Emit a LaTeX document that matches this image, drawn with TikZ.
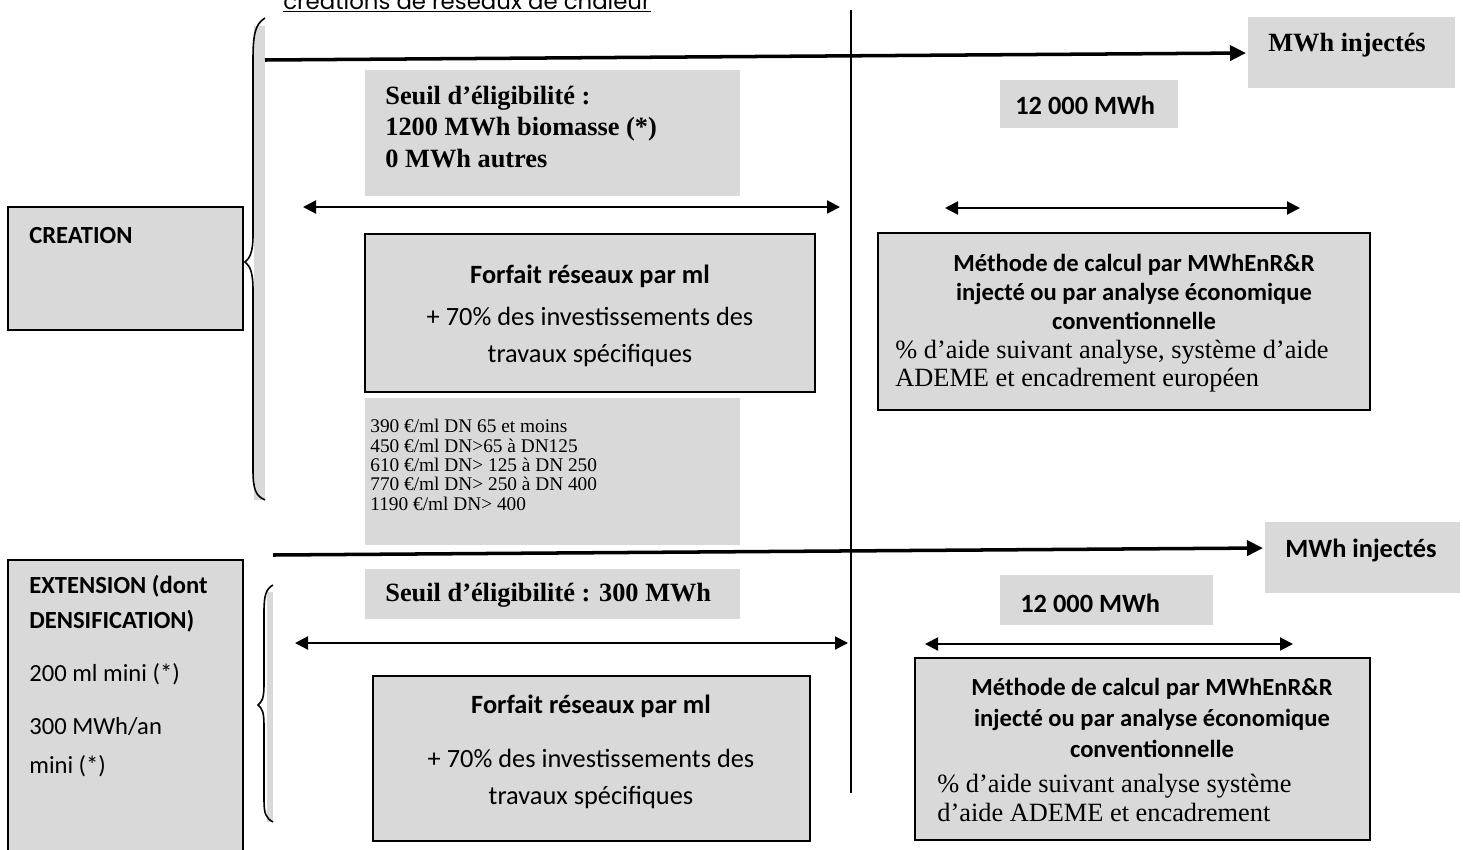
\documentclass[tikz,border=0pt]{standalone}
\usepackage{fontspec}
\setmainfont{Liberation Serif}
\newfontfamily\calibri{Carlito}
\newfontfamily\gothic{Poppins}
\usetikzlibrary{arrows.meta}
\definecolor{boxgrey}{HTML}{D9D9D9}

\tikzset{
    greybox/.style={fill=boxgrey},
    framebox/.style={fill=boxgrey, draw=black, line width=1.1pt},
    bigarrow/.style={line width=2pt, -{Triangle[length=0.32cm,width=0.30cm]}},
    spanarrow/.style={line width=1.2pt, {Triangle[length=0.26cm,width=0.26cm]}-{Triangle[length=0.26cm,width=0.26cm]}},
    timesbold/.style={inner sep=0pt, font=\fontsize{15}{18}\selectfont\bfseries},
    calbold/.style={inner sep=0pt, font=\calibri\fontsize{15}{18}\selectfont\bfseries},
}

\begin{document}
\begin{tikzpicture}[x=0.02cm, y=-0.02cm]
    \useasboundingbox (0,0) rectangle (1463,849);

    % title, cut by the page edge
    \node[anchor=base west, inner sep=0pt] (title) at (283,9)
        {\gothic\fontsize{13}{15}\selectfont\underline{créations de réseaux de chaleur}};

    % grey boxes
    \fill[greybox] (1248,17) rectangle (1455,88);
    \fill[greybox] (365,70) rectangle (740,196);
    \fill[greybox] (1000,80) rectangle (1178,128);
    \fill[greybox] (365,398) rectangle (740,545);
    \fill[greybox] (1265,522) rectangle (1460,593);
    \fill[greybox] (365,569) rectangle (740,619);
    \fill[greybox] (1000,575) rectangle (1213,625);
    \draw[framebox] (8,207) rectangle (243,330);
    \draw[framebox] (365,234) rectangle (815,392);
    \draw[framebox] (878,233) rectangle (1370,410);
    \draw[framebox] (8,560) rectangle (243,870);
    \draw[framebox] (373,676) rectangle (810,841);
    \draw[framebox] (915,658) rectangle (1370,840);

    % braces
    \fill[greybox] (254,26) rectangle (265,500);
    \draw[line width=0.9pt] (265,18) .. controls (255,24) and (253,35) .. (253,60)
        -- (253,235) .. controls (253,252) and (250,258) .. (245,262)
        .. controls (250,266) and (253,272) .. (253,290)
        -- (253,470) .. controls (253,490) and (256,496) .. (265,500);
    \fill[greybox] (267,592) rectangle (273,822);
    \draw[line width=0.9pt] (273,585) .. controls (266,589) and (264,595) .. (264,612)
        -- (264,685) .. controls (264,698) and (262,702) .. (258,705)
        .. controls (262,708) and (264,712) .. (264,725)
        -- (264,800) .. controls (264,814) and (266,818) .. (273,822);

    % axis and arrows
    \coordinate (axtop) at (851,10);
    \coordinate (axbot) at (851,793);
    \draw[line width=0.9pt] (axtop) -- (axbot);

    \coordinate (rowAstart) at (265,60);
    \coordinate (rowAend) at (1246,53);
    \draw[bigarrow] (rowAstart) -- (rowAend);
    \coordinate (rowBstart) at (273,555);
    \coordinate (rowBend) at (1263,548);
    \draw[bigarrow] (rowBstart) -- (rowBend);

    \coordinate (spanAl) at (303,207);
    \coordinate (spanAr) at (840,207);
    \draw[spanarrow] (spanAl) -- (spanAr);
    \coordinate (spanBl) at (945,208);
    \coordinate (spanBr) at (1300,208);
    \draw[spanarrow] (spanBl) -- (spanBr);
    \coordinate (spanCl) at (295,643);
    \coordinate (spanCr) at (848,643);
    \draw[spanarrow] (spanCl) -- (spanCr);
    \coordinate (spanDl) at (925,644);
    \coordinate (spanDr) at (1293,644);
    \draw[spanarrow] (spanDl) -- (spanDr);

    % texts, creation
    \node[timesbold, anchor=west] (injA) at (1268,45) {MWh injectés};
    \node[timesbold, anchor=west, align=left] (seuilA) at (385,127)
        {Seuil d’éligibilité :\\1200 MWh biomasse (*)\\0 MWh autres};
    \node[calbold, anchor=west] (mwhA) at (1015,105) {12 000 MWh};
    \node[calbold, anchor=west, font=\calibri\fontsize{14}{17}\selectfont\bfseries] (creation) at (29,236) {CREATION};
    \node[inner sep=0pt, align=center, font=\calibri\fontsize{15}{21.5}\selectfont] (forfaitA) at (590,316)
        {\textbf{Forfait réseaux par ml}\\[2.3pt]+ 70\% des investissements des\\travaux spécifiques};
    \node[inner sep=0pt, anchor=west, align=left, font=\fontsize{11}{11}\selectfont] (tarifs) at (370,465)
        {390 €/ml DN 65 et moins\\450 €/ml DN>65 à DN125\\610 €/ml DN> 125 à DN 250\\770 €/ml DN> 250 à DN 400\\1190 €/ml DN> 400};
    \node[inner sep=0pt, align=center, font=\calibri\fontsize{14}{16.5}\selectfont\bfseries] (methA) at (1134,292)
        {Méthode de calcul par MWhEnR\&R\\injecté ou par analyse économique\\conventionnelle};
    \node[inner sep=0pt, anchor=west, align=left, font=\fontsize{15}{16}\selectfont] (aideA) at (895,366)
        {\% d’aide suivant analyse, système d’aide\\ADEME et encadrement européen};

    % texts, extension
    \node[calbold, anchor=west] (injB) at (1285,550) {MWh injectés};
    \node[inner sep=0pt, anchor=west, align=left, font=\calibri\fontsize{14}{20}\selectfont] (extension) at (29,676)
        {\textbf{EXTENSION (dont}\\\textbf{DENSIFICATION)}\\[10pt]200 ml mini (*)\\[10pt]300 MWh/an\\[2pt]mini (*)};
    \node[timesbold, anchor=west] (seuilB) at (385,595) {Seuil d’éligibilité : 300 MWh};
    \node[calbold, anchor=west] (mwhB) at (1020,603) {12 000 MWh};
    \node[inner sep=0pt, align=center, font=\calibri\fontsize{15}{21.5}\selectfont] (forfaitB) at (591,752)
        {\textbf{Forfait réseaux par ml}\\[9pt]+ 70\% des investissements des\\travaux spécifiques};
    \node[inner sep=0pt, align=center, font=\calibri\fontsize{14}{17.5}\selectfont\bfseries] (methB) at (1152,718)
        {Méthode de calcul par MWhEnR\&R\\injecté ou par analyse économique\\conventionnelle};
    \node[inner sep=0pt, anchor=west, align=left, font=\fontsize{15}{17}\selectfont] (aideB) at (937,798)
        {\% d’aide suivant analyse système\\d’aide ADEME et encadrement};
\end{tikzpicture}
\end{document}
